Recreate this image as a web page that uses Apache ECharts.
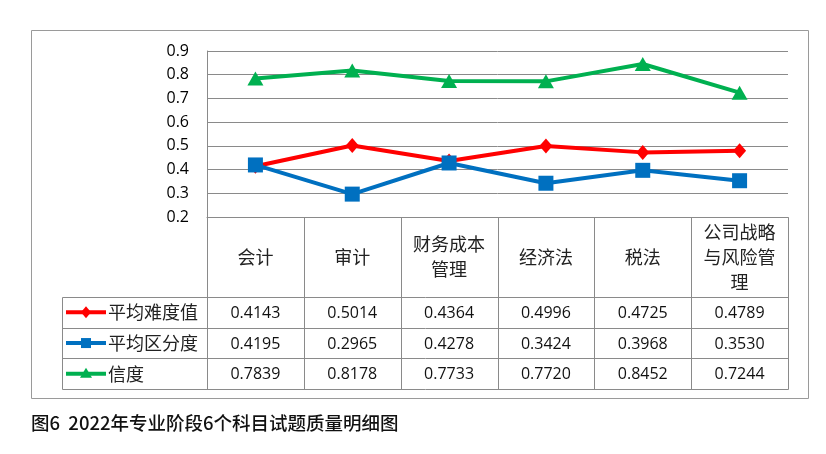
<!DOCTYPE html>
<html><head><meta charset="utf-8">
<script src="https://cdn.jsdelivr.net/npm/echarts@6/dist/echarts.min.js"></script>
<style>html,body{margin:0;padding:0;background:#fff}#c{width:826px;height:454px}</style>
</head><body><div id="c"></div>
<script>
const categories = ['会计','审计','财务成本管理','经济法','税法','公司战略与风险管理'];
const headerLabels = ['会计','审计','财务成本\n管理','经济法','税法','公司战略\n与风险管\n理'];
const seriesNames = ['平均难度值','平均区分度','信度'];
const difficulty = [0.4143,0.5014,0.4364,0.4996,0.4725,0.4789];
const discrimination = [0.4195,0.2965,0.4278,0.3424,0.3968,0.3530];
const reliability = [0.7839,0.8178,0.7733,0.7720,0.8452,0.7244];
const yMin = 0.2, yMax = 0.9, yStep = 0.1;
const caption = '图6  2022年专业阶段6个科目试题质量明细图';

const colors = ['#FF0000','#0070C0','#00B050'];
const symbols = ['diamond','rect','triangle'];
const symSizes = [[13,15],[15,15],[16,14]];
const allData = [difficulty, discrimination, reliability];
const gridCol = '#8a8a8a';
const numFont = '"Open Sans", "Noto Sans", sans-serif';
const cjkFont = '"Noto Sans CJK SC", sans-serif';

const chart = echarts.init(document.getElementById('c'));
chart.setOption({
  animation: false,
  backgroundColor: '#fff',
  grid: {left: 207, right: 38, top: 51, bottom: 237, containLabel: false},
  xAxis: {
    type: 'category', data: categories, boundaryGap: true,
    axisLine: {show: true, lineStyle: {color: gridCol, width: 1}},
    axisTick: {show: false}, axisLabel: {show: false}, splitLine: {show: false}
  },
  yAxis: {
    type: 'value', min: yMin, max: yMax, interval: yStep,
    axisLine: {show: true, lineStyle: {color: gridCol, width: 1}},
    axisTick: {show: false},
    axisLabel: {color: '#000', fontFamily: numFont, fontSize: 16, margin: 18,
      formatter: v => v.toFixed(1)},
    splitLine: {show: true, lineStyle: {color: gridCol, width: 1}}
  },
  series: seriesNames.map((n, i) => ({
    name: n, type: 'line', data: allData[i],
    symbol: symbols[i], symbolSize: symSizes[i],
    lineStyle: {color: colors[i], width: 4},
    itemStyle: {color: colors[i]},
    z: 3 + (i === 1 ? 1 : 0)
  }))
});

// Build data table below the plot, aligned with category columns
const c0 = chart.convertToPixel({xAxisIndex: 0}, 0);
const c1 = chart.convertToPixel({xAxisIndex: 0}, 1);
const colW = c1 - c0;
const left = c0 - colW / 2;
const right = left + colW * categories.length;
const yTop = chart.convertToPixel({yAxisIndex: 0}, yMin);
const headerBottom = yTop + 80;
const rowH = 30.7;
const rowYs = [0, 1, 2, 3].map(k => headerBottom + rowH * k);
const legendLeft = 62;
const px = v => Math.round(v) + 0.5;

const g = [];
const line = (x1, y1, x2, y2) => g.push({type: 'line', silent: true, z: 10,
  shape: {x1: px(x1), y1: px(y1), x2: px(x2), y2: px(y2)},
  style: {stroke: gridCol, lineWidth: 1}});

// outer frame
g.push({type: 'rect', silent: true, z: 0,
  shape: {x: 31.5, y: 30.5, width: 777, height: 368},
  style: {fill: 'none', stroke: '#9a9a9a', lineWidth: 1}});

// horizontal table lines
line(left, yTop, right, yTop);
rowYs.forEach(y => line(legendLeft, y, right, y));
// vertical lines
line(legendLeft, headerBottom, legendLeft, rowYs[3]);
for (let i = 0; i <= categories.length; i++) {
  const x = left + colW * i;
  line(x, yTop, x, rowYs[3]);
}
// headers
headerLabels.forEach((t, i) => {
  g.push({type: 'text', silent: true, z: 11,
    style: {text: t, x: left + colW * (i + 0.5), y: (yTop + headerBottom) / 2,
      align: 'center', verticalAlign: 'middle', fill: '#222',
      font: '18px ' + cjkFont, lineHeight: 25}});
});
// rows
seriesNames.forEach((n, r) => {
  const cy = (rowYs[r] + rowYs[r + 1]) / 2;
  g.push({type: 'line', silent: true, z: 11,
    shape: {x1: 66, y1: cy, x2: 106, y2: cy},
    style: {stroke: colors[r], lineWidth: 4}});
  const mx = 86;
  if (symbols[r] === 'diamond') {
    g.push({type: 'polygon', silent: true, z: 12,
      shape: {points: [[mx, cy - 6], [mx + 5, cy], [mx, cy + 6], [mx - 5, cy]]},
      style: {fill: colors[r]}});
  } else if (symbols[r] === 'rect') {
    g.push({type: 'rect', silent: true, z: 12,
      shape: {x: mx - 5, y: cy - 5, width: 10, height: 10}, style: {fill: colors[r]}});
  } else {
    g.push({type: 'polygon', silent: true, z: 12,
      shape: {points: [[mx, cy - 6], [mx + 6, cy + 4], [mx - 6, cy + 4]]},
      style: {fill: colors[r]}});
  }
  g.push({type: 'text', silent: true, z: 11,
    style: {text: n, x: 108, y: cy, align: 'left', verticalAlign: 'middle',
      fill: '#222', font: '18px ' + cjkFont}});
  allData[r].forEach((v, i) => {
    g.push({type: 'text', silent: true, z: 11,
      style: {text: v.toFixed(4), x: left + colW * (i + 0.5), y: cy + 1,
        align: 'center', verticalAlign: 'middle', fill: '#111',
        font: '16px ' + numFont}});
  });
});
// caption
g.push({type: 'text', silent: true, z: 11,
  style: {text: caption, x: 31, y: 423, align: 'left', verticalAlign: 'middle',
    fill: '#111', font: '500 18.5px ' + cjkFont}});

chart.setOption({graphic: g});
</script></body></html>
